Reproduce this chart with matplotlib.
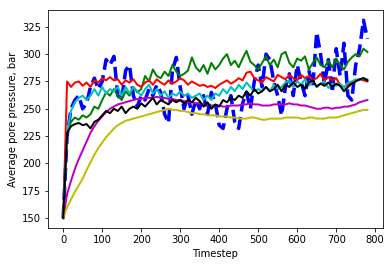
import numpy as np
import matplotlib
matplotlib.use("Agg")
import matplotlib.pyplot as plt

timestep = list(range(0, 790, 10))

blue = [150, 225, 250, 258, 262, 250, 255, 270, 278, 268,
        275, 295, 290, 298, 262, 258, 285, 290, 262, 252,
        262, 258, 268, 262, 272, 265, 245, 237, 285, 297,
        270, 250, 262, 245, 258, 250, 262, 245, 265, 255,
        235, 232, 250, 262, 238, 232, 255, 265, 250, 275,
        290, 270, 300, 295, 275, 262, 244, 270, 282, 262,
        290, 275, 262, 285, 270, 320, 300, 272, 295, 265,
        305, 280, 310, 262, 258, 290, 305, 331, 314]

green = [150, 228, 238, 242, 240, 244, 242, 245, 252, 250,
         258, 265, 262, 268, 262, 258, 266, 262, 270, 265,
         268, 280, 275, 286, 280, 278, 284, 280, 290, 284,
         280, 282, 285, 297, 288, 284, 290, 282, 292, 286,
         290, 296, 300, 290, 294, 288, 296, 303, 293, 290,
         286, 292, 298, 290, 295, 288, 300, 302, 292, 288,
         296, 294, 298, 286, 292, 297, 290, 288, 294, 288,
         296, 290, 286, 293, 297, 300, 298, 305, 302]

red = [150, 275, 270, 274, 275, 271, 274, 270, 276, 274,
       278, 276, 279, 276, 277, 272, 276, 274, 277, 272,
       270, 274, 276, 272, 277, 274, 272, 276, 273, 275,
       278, 276, 272, 275, 273, 271, 272, 270, 271, 269,
       272, 274, 276, 273, 275, 278, 276, 283, 284, 278,
       276, 274, 279, 277, 275, 281, 279, 277, 281, 278,
       276, 281, 278, 280, 276, 278, 282, 276, 279, 276,
       278, 272, 270, 272, 274, 276, 277, 276, 275]

cyan = [150, 228, 248, 256, 260, 262, 258, 262, 268, 262,
        270, 264, 268, 266, 270, 262, 270, 264, 270, 266,
        262, 268, 272, 264, 268, 262, 266, 260, 264, 262,
        266, 262, 264, 260, 262, 264, 258, 262, 258, 264,
        262, 268, 264, 270, 266, 272, 268, 274, 270, 266,
        268, 266, 270, 266, 272, 268, 270, 274, 276, 270,
        275, 272, 277, 271, 275, 271, 273, 275, 269, 273,
        271, 273, 269, 274, 275, 277, 276, 278, 277]

magenta = [150, 172, 184, 195, 204, 212, 220, 228, 234, 239,
           243, 247, 250, 252, 254, 255, 256, 257, 258, 259,
           259, 260, 260, 260, 261, 260, 260, 259, 259, 258,
           258, 257, 256, 256, 255, 255, 254, 254, 253, 253,
           253, 252, 252, 253, 253, 253, 254, 254, 255, 254,
           254, 253, 253, 253, 254, 254, 254, 254, 255, 254,
           254, 253, 253, 252, 251, 250, 250, 251, 251, 250,
           251, 251, 252, 252, 253, 254, 256, 257, 258]

yellow = [150, 160, 167, 174, 180, 186, 194, 201, 208, 214,
          219, 224, 228, 232, 235, 237, 239, 240, 241, 242,
          243, 244, 245, 246, 247, 248, 249, 250, 249, 249,
          248, 248, 247, 246, 246, 245, 245, 244, 244, 244,
          243, 243, 243, 242, 242, 241, 241, 241, 242, 242,
          241, 240, 240, 241, 241, 241, 241, 242, 242, 242,
          242, 241, 241, 242, 242, 241, 241, 241, 242, 242,
          242, 243, 244, 245, 246, 247, 248, 249, 249]

black = [150, 228, 234, 236, 237, 235, 236, 232, 238, 240,
         244, 248, 246, 250, 248, 252, 246, 250, 252, 250,
         255, 252, 256, 260, 254, 258, 256, 254, 258, 256,
         258, 255, 258, 256, 260, 257, 252, 256, 250, 254,
         252, 258, 256, 260, 258, 262, 260, 266, 262, 268,
         264, 266, 270, 266, 268, 272, 266, 272, 270, 274,
         270, 272, 268, 274, 276, 270, 273, 271, 274, 270,
         273, 271, 266, 270, 273, 275, 277, 278, 276]

fig, ax = plt.subplots(figsize=(392 / 72, 266 / 72), dpi=72)
fig.subplots_adjust(left=0.1224, right=0.976, bottom=0.143, top=0.961)

ax.plot(timestep, blue, "b--", linewidth=3.5)
ax.plot(timestep, green, "g", linewidth=2)
ax.plot(timestep, red, "r", linewidth=2)
ax.plot(timestep, cyan, "c", linewidth=2)
ax.plot(timestep, magenta, "m", linewidth=2)
ax.plot(timestep, yellow, "y", linewidth=2)
ax.plot(timestep, black, "k", linewidth=2)

ax.set_xlabel("Timestep")
ax.set_ylabel("Average pore pressure, bar")
ax.set_xticks(range(0, 900, 100))
ax.set_yticks(range(150, 350, 25))

fig.savefig("out.png", dpi=72)
